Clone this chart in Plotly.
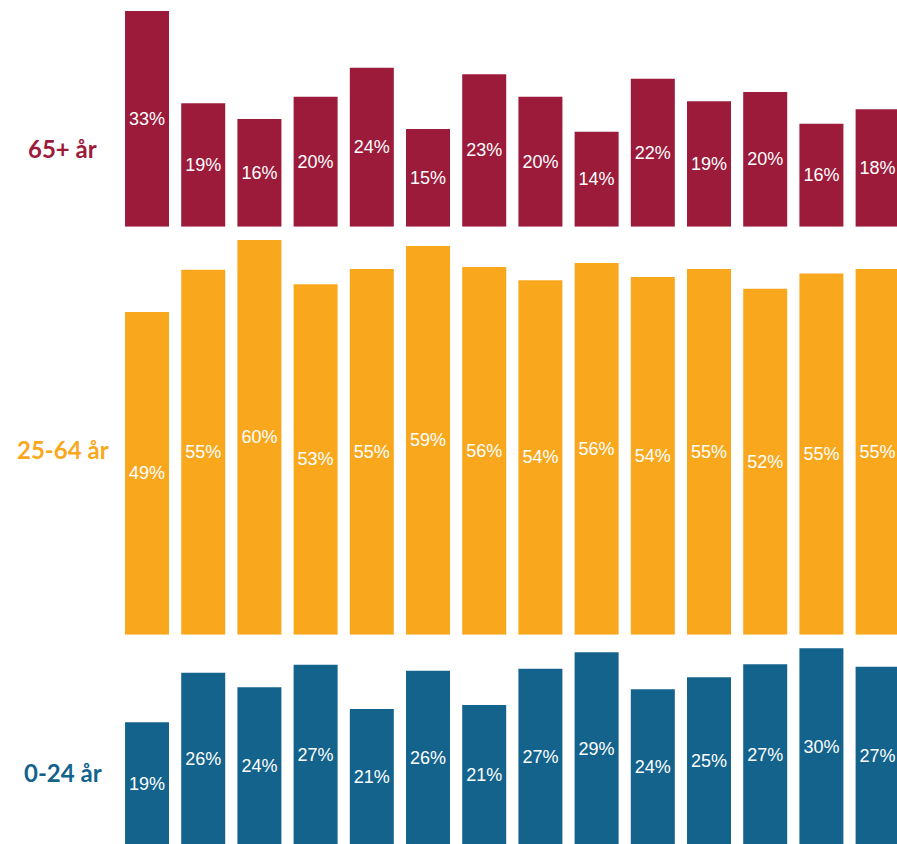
import plotly.graph_objects as go

# ---- data ----
columns = list(range(1, 15))
age_groups = ["0-24 år", "25-64 år", "65+ år"]
share_0_24 = [18.6, 26.1, 23.9, 27.3, 20.6, 26.4, 21.2, 26.7, 29.2, 23.6, 25.4, 27.4, 29.8, 27.0]
share_25_64 = [48.9, 55.3, 59.8, 53.1, 55.4, 58.9, 55.7, 53.7, 56.3, 54.2, 55.4, 52.4, 54.7, 55.4]
share_65_plus = [32.7, 18.7, 16.3, 19.7, 24.1, 14.8, 23.1, 19.7, 14.4, 22.4, 19.0, 20.4, 15.6, 17.8]

colors = {"0-24 år": "#13638D", "25-64 år": "#F9A81E", "65+ år": "#9C1B3B"}
series = {"0-24 år": share_0_24, "25-64 år": share_25_64, "65+ år": share_65_plus}
axes = {"0-24 år": "y", "25-64 år": "y2", "65+ år": "y3"}

fig = go.Figure()
for grp in age_groups:
    fig.add_trace(go.Bar(
        x=[c - 1 for c in columns],
        y=series[grp],
        yaxis=axes[grp],
        width=0.783,
        marker=dict(color=colors[grp], line=dict(width=0)),
        texttemplate="%{y:.0f}%",
        textposition="inside",
        insidetextanchor="middle",
        textangle=0,
        textfont=dict(family="Liberation Sans, Arial, sans-serif", size=18, color="white"),
        hoverinfo="skip",
        showlegend=False,
    ))

hidden = dict(showgrid=False, zeroline=False, showticklabels=False, showline=False, ticks="")

fig.update_layout(
    width=897, height=844,
    margin=dict(l=0, r=0, t=0, b=0),
    paper_bgcolor="white", plot_bgcolor="white",
    uniformtext=dict(minsize=18, mode="show"),
    xaxis=dict(range=[-2.616, 13.345], **hidden),
    yaxis=dict(domain=[0.0, 0.2417], range=[0.15, 31.06], **hidden),
    yaxis2=dict(domain=[0.248, 0.7251], range=[0, 61.0], **hidden),
    yaxis3=dict(domain=[0.7314, 1.0], range=[0, 34.35], **hidden),
)

label_pos = {"65+ år": 0.8235, "25-64 år": 0.468, "0-24 år": 0.0853}
for grp in age_groups:
    fig.add_annotation(
        text=f"<b>{grp}</b>", xref="paper", yref="paper",
        x=0.0702, y=label_pos[grp], xanchor="center", yanchor="middle",
        showarrow=False,
        font=dict(family="Lato, sans-serif", size=24, color=colors[grp]),
    )

fig.write_html(
    "out.html",
    config={"displayModeBar": False},
    post_script="document.body.style.margin='0';document.body.style.overflow='hidden';",
)
